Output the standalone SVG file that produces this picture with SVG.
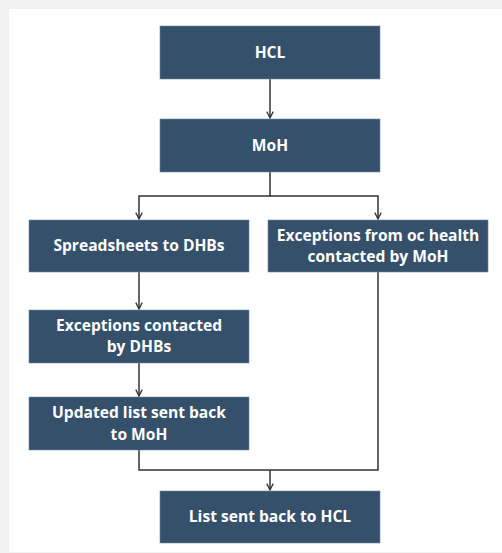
<svg xmlns="http://www.w3.org/2000/svg" width="502" height="553" viewBox="0 0 502 553">
<style>
.box{fill:#34506b;stroke:#6f8aa1;stroke-width:0.6}
.t{font-family:"Open Sans","Noto Sans",sans-serif;font-weight:bold;font-size:15.6px;fill:#ffffff;text-anchor:middle}
.c{fill:none;stroke:#333333;stroke-width:1.5}
</style>
<defs>
<marker id="arr" viewBox="0 0 10 10" refX="9" refY="5" markerWidth="8" markerHeight="8" markerUnits="userSpaceOnUse" orient="auto">
<path d="M1,1 L9,5 L1,9" fill="none" stroke="#333333" stroke-width="1.6"/>
</marker>
</defs>
<rect width="502" height="553" fill="#f2f2f2"/>
<rect x="9" y="9" width="493" height="543" fill="#ffffff"/>
<g id="connectors">
<path class="c" d="M270,79 V118" marker-end="url(#arr)"/>
<path class="c" d="M270,172 V196 H139 V219" marker-end="url(#arr)"/>
<path class="c" d="M270,196 H378 V219" marker-end="url(#arr)"/>
<path class="c" d="M139,272 V309" marker-end="url(#arr)"/>
<path class="c" d="M139,363 V396" marker-end="url(#arr)"/>
<path class="c" d="M139,450 V470 H378 V272"/>
<path class="c" d="M270,470 V490" marker-end="url(#arr)"/>
</g>
<g id="hcl"><rect class="box" x="160" y="26" width="220" height="53"/><text class="t" x="270" y="57.5">HCL</text></g>
<g id="moh"><rect class="box" x="160" y="119" width="220" height="53"/><text class="t" x="270" y="150.5">MoH</text></g>
<g id="spreadsheets"><rect class="box" x="29" y="220" width="220" height="52"/><text class="t" x="139" y="251">Spreadsheets to DHBs</text></g>
<g id="exceptions-oc"><rect class="box" x="268" y="220" width="220" height="52"/><text class="t" x="378" y="240.5">Exceptions from oc health</text><text class="t" x="378" y="261.5">contacted by MoH</text></g>
<g id="exceptions-dhb"><rect class="box" x="29" y="310" width="220" height="53"/><text class="t" x="139" y="330.5">Exceptions contacted</text><text class="t" x="139" y="352">by DHBs</text></g>
<g id="updated"><rect class="box" x="29" y="397" width="220" height="53"/><text class="t" x="139" y="418.3">Updated list sent back</text><text class="t" x="139" y="439.5">to MoH</text></g>
<g id="list-sent"><rect class="box" x="160" y="491" width="220" height="52"/><text class="t" x="270" y="521.7">List sent back to HCL</text></g>
</svg>
